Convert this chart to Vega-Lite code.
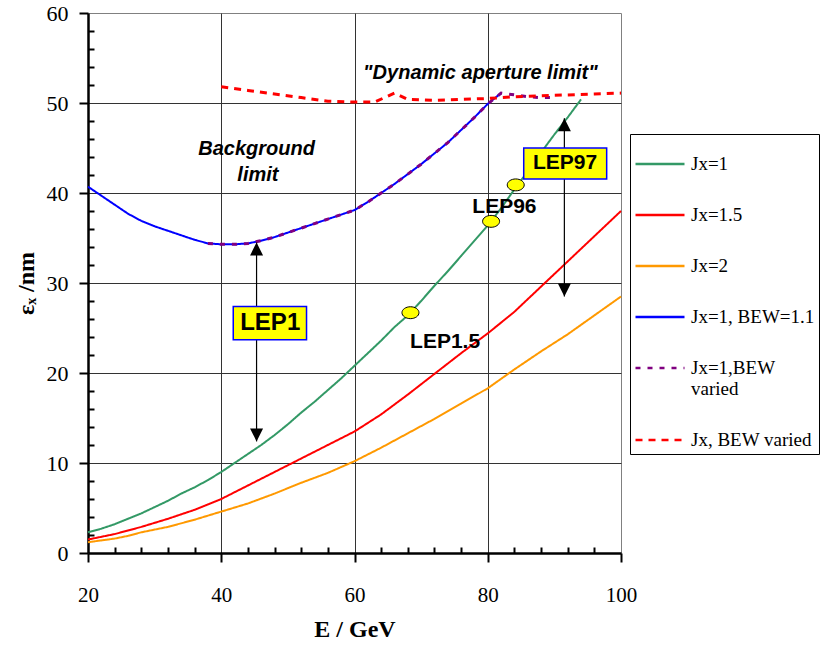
{
  "$schema": "https://vega.github.io/schema/vega-lite/v6.json",
  "width": 533,
  "height": 540,
  "autosize": {"type": "none"},
  "padding": {"left": 88, "top": 13, "right": 199, "bottom": 99},
  "background": "white",
  "config": {
    "view": {"stroke": "#808080", "strokeWidth": 1}
  },
  "datasets": {
    "curves": [
      {"s": "Jx=1", "E": 20, "eps": 2.3}, {"s": "Jx=1", "E": 22, "eps": 2.7}, {"s": "Jx=1", "E": 24, "eps": 3.2}, {"s": "Jx=1", "E": 26, "eps": 3.8},
      {"s": "Jx=1", "E": 28, "eps": 4.4}, {"s": "Jx=1", "E": 30, "eps": 5.1}, {"s": "Jx=1", "E": 32, "eps": 5.8}, {"s": "Jx=1", "E": 34, "eps": 6.6},
      {"s": "Jx=1", "E": 36, "eps": 7.3}, {"s": "Jx=1", "E": 38, "eps": 8.1}, {"s": "Jx=1", "E": 40, "eps": 9.0}, {"s": "Jx=1", "E": 42, "eps": 10.0},
      {"s": "Jx=1", "E": 44, "eps": 11.0}, {"s": "Jx=1", "E": 46, "eps": 12.0}, {"s": "Jx=1", "E": 48, "eps": 13.1}, {"s": "Jx=1", "E": 50, "eps": 14.3},
      {"s": "Jx=1", "E": 52, "eps": 15.6}, {"s": "Jx=1", "E": 54, "eps": 16.8}, {"s": "Jx=1", "E": 56, "eps": 18.1}, {"s": "Jx=1", "E": 58, "eps": 19.4},
      {"s": "Jx=1", "E": 60, "eps": 20.8}, {"s": "Jx=1", "E": 62, "eps": 22.2}, {"s": "Jx=1", "E": 64, "eps": 23.6}, {"s": "Jx=1", "E": 66, "eps": 25.1},
      {"s": "Jx=1", "E": 68, "eps": 26.4}, {"s": "Jx=1", "E": 70, "eps": 28.0}, {"s": "Jx=1", "E": 72, "eps": 29.7}, {"s": "Jx=1", "E": 74, "eps": 31.3},
      {"s": "Jx=1", "E": 76, "eps": 33.0}, {"s": "Jx=1", "E": 78, "eps": 34.7}, {"s": "Jx=1", "E": 80, "eps": 36.4}, {"s": "Jx=1", "E": 82, "eps": 38.3},
      {"s": "Jx=1", "E": 84, "eps": 40.4}, {"s": "Jx=1", "E": 86, "eps": 42.4}, {"s": "Jx=1", "E": 88, "eps": 44.5}, {"s": "Jx=1", "E": 90, "eps": 46.5},
      {"s": "Jx=1", "E": 92, "eps": 48.4}, {"s": "Jx=1", "E": 94, "eps": 50.4},

      {"s": "Jx=1.5", "E": 20, "eps": 1.5}, {"s": "Jx=1.5", "E": 24, "eps": 2.1}, {"s": "Jx=1.5", "E": 28, "eps": 2.9}, {"s": "Jx=1.5", "E": 32, "eps": 3.8},
      {"s": "Jx=1.5", "E": 36, "eps": 4.8}, {"s": "Jx=1.5", "E": 40, "eps": 6.0}, {"s": "Jx=1.5", "E": 44, "eps": 7.5}, {"s": "Jx=1.5", "E": 48, "eps": 9.0},
      {"s": "Jx=1.5", "E": 52, "eps": 10.5}, {"s": "Jx=1.5", "E": 56, "eps": 12.0}, {"s": "Jx=1.5", "E": 60, "eps": 13.5}, {"s": "Jx=1.5", "E": 64, "eps": 15.4},
      {"s": "Jx=1.5", "E": 68, "eps": 17.6}, {"s": "Jx=1.5", "E": 72, "eps": 19.9}, {"s": "Jx=1.5", "E": 76, "eps": 22.2}, {"s": "Jx=1.5", "E": 80, "eps": 24.4},
      {"s": "Jx=1.5", "E": 84, "eps": 26.8}, {"s": "Jx=1.5", "E": 88, "eps": 29.6}, {"s": "Jx=1.5", "E": 92, "eps": 32.4}, {"s": "Jx=1.5", "E": 96, "eps": 35.2},
      {"s": "Jx=1.5", "E": 100, "eps": 38.0},

      {"s": "Jx=2", "E": 20, "eps": 1.2}, {"s": "Jx=2", "E": 22, "eps": 1.4}, {"s": "Jx=2", "E": 24, "eps": 1.6}, {"s": "Jx=2", "E": 26, "eps": 1.9},
      {"s": "Jx=2", "E": 28, "eps": 2.3}, {"s": "Jx=2", "E": 32, "eps": 2.9}, {"s": "Jx=2", "E": 36, "eps": 3.7}, {"s": "Jx=2", "E": 40, "eps": 4.6},
      {"s": "Jx=2", "E": 44, "eps": 5.5}, {"s": "Jx=2", "E": 48, "eps": 6.6}, {"s": "Jx=2", "E": 52, "eps": 7.8}, {"s": "Jx=2", "E": 56, "eps": 8.9},
      {"s": "Jx=2", "E": 60, "eps": 10.2}, {"s": "Jx=2", "E": 64, "eps": 11.7}, {"s": "Jx=2", "E": 68, "eps": 13.3}, {"s": "Jx=2", "E": 72, "eps": 14.9},
      {"s": "Jx=2", "E": 76, "eps": 16.6}, {"s": "Jx=2", "E": 80, "eps": 18.3}, {"s": "Jx=2", "E": 84, "eps": 20.4}, {"s": "Jx=2", "E": 88, "eps": 22.4},
      {"s": "Jx=2", "E": 92, "eps": 24.3}, {"s": "Jx=2", "E": 96, "eps": 26.4}, {"s": "Jx=2", "E": 100, "eps": 28.5},

      {"s": "Jx=1, BEW=1.1", "E": 20, "eps": 40.7}, {"s": "Jx=1, BEW=1.1", "E": 22, "eps": 39.7}, {"s": "Jx=1, BEW=1.1", "E": 24, "eps": 38.7},
      {"s": "Jx=1, BEW=1.1", "E": 26, "eps": 37.7}, {"s": "Jx=1, BEW=1.1", "E": 28, "eps": 36.9}, {"s": "Jx=1, BEW=1.1", "E": 30, "eps": 36.3},
      {"s": "Jx=1, BEW=1.1", "E": 32, "eps": 35.8}, {"s": "Jx=1, BEW=1.1", "E": 34, "eps": 35.3}, {"s": "Jx=1, BEW=1.1", "E": 36, "eps": 34.8},
      {"s": "Jx=1, BEW=1.1", "E": 38, "eps": 34.4}, {"s": "Jx=1, BEW=1.1", "E": 40, "eps": 34.3}, {"s": "Jx=1, BEW=1.1", "E": 42, "eps": 34.3},
      {"s": "Jx=1, BEW=1.1", "E": 44, "eps": 34.4}, {"s": "Jx=1, BEW=1.1", "E": 46, "eps": 34.7}, {"s": "Jx=1, BEW=1.1", "E": 48, "eps": 35.1},
      {"s": "Jx=1, BEW=1.1", "E": 50, "eps": 35.6}, {"s": "Jx=1, BEW=1.1", "E": 52, "eps": 36.1}, {"s": "Jx=1, BEW=1.1", "E": 54, "eps": 36.6},
      {"s": "Jx=1, BEW=1.1", "E": 56, "eps": 37.1}, {"s": "Jx=1, BEW=1.1", "E": 58, "eps": 37.6}, {"s": "Jx=1, BEW=1.1", "E": 60, "eps": 38.1},
      {"s": "Jx=1, BEW=1.1", "E": 62, "eps": 39.0}, {"s": "Jx=1, BEW=1.1", "E": 64, "eps": 40.0}, {"s": "Jx=1, BEW=1.1", "E": 66, "eps": 41.0},
      {"s": "Jx=1, BEW=1.1", "E": 68, "eps": 42.1}, {"s": "Jx=1, BEW=1.1", "E": 70, "eps": 43.2}, {"s": "Jx=1, BEW=1.1", "E": 72, "eps": 44.4},
      {"s": "Jx=1, BEW=1.1", "E": 74, "eps": 45.6}, {"s": "Jx=1, BEW=1.1", "E": 76, "eps": 47.0}, {"s": "Jx=1, BEW=1.1", "E": 78, "eps": 48.4},
      {"s": "Jx=1, BEW=1.1", "E": 80, "eps": 49.9}, {"s": "Jx=1, BEW=1.1", "E": 82, "eps": 51.1},

      {"s": "Jx=1,BEW varied", "E": 38, "eps": 34.4}, {"s": "Jx=1,BEW varied", "E": 40, "eps": 34.3}, {"s": "Jx=1,BEW varied", "E": 42, "eps": 34.3},
      {"s": "Jx=1,BEW varied", "E": 44, "eps": 34.4}, {"s": "Jx=1,BEW varied", "E": 46, "eps": 34.7}, {"s": "Jx=1,BEW varied", "E": 48, "eps": 35.1},
      {"s": "Jx=1,BEW varied", "E": 50, "eps": 35.6}, {"s": "Jx=1,BEW varied", "E": 52, "eps": 36.1}, {"s": "Jx=1,BEW varied", "E": 54, "eps": 36.6},
      {"s": "Jx=1,BEW varied", "E": 56, "eps": 37.1}, {"s": "Jx=1,BEW varied", "E": 58, "eps": 37.6}, {"s": "Jx=1,BEW varied", "E": 60, "eps": 38.1},
      {"s": "Jx=1,BEW varied", "E": 62, "eps": 39.0}, {"s": "Jx=1,BEW varied", "E": 64, "eps": 40.0}, {"s": "Jx=1,BEW varied", "E": 66, "eps": 41.0},
      {"s": "Jx=1,BEW varied", "E": 68, "eps": 42.1}, {"s": "Jx=1,BEW varied", "E": 70, "eps": 43.2}, {"s": "Jx=1,BEW varied", "E": 72, "eps": 44.4},
      {"s": "Jx=1,BEW varied", "E": 74, "eps": 45.6}, {"s": "Jx=1,BEW varied", "E": 76, "eps": 47.0}, {"s": "Jx=1,BEW varied", "E": 78, "eps": 48.4},
      {"s": "Jx=1,BEW varied", "E": 80, "eps": 49.9}, {"s": "Jx=1,BEW varied", "E": 82, "eps": 51.1}, {"s": "Jx=1,BEW varied", "E": 84, "eps": 50.9},
      {"s": "Jx=1,BEW varied", "E": 86, "eps": 50.7}, {"s": "Jx=1,BEW varied", "E": 88, "eps": 50.6}, {"s": "Jx=1,BEW varied", "E": 90, "eps": 50.6},

      {"s": "Jx, BEW varied", "E": 40, "eps": 51.8}, {"s": "Jx, BEW varied", "E": 44, "eps": 51.4}, {"s": "Jx, BEW varied", "E": 48, "eps": 51.0},
      {"s": "Jx, BEW varied", "E": 52, "eps": 50.6}, {"s": "Jx, BEW varied", "E": 56, "eps": 50.2}, {"s": "Jx, BEW varied", "E": 60, "eps": 50.1},
      {"s": "Jx, BEW varied", "E": 63, "eps": 50.1}, {"s": "Jx, BEW varied", "E": 66, "eps": 51.1}, {"s": "Jx, BEW varied", "E": 68, "eps": 50.4},
      {"s": "Jx, BEW varied", "E": 72, "eps": 50.3}, {"s": "Jx, BEW varied", "E": 76, "eps": 50.4}, {"s": "Jx, BEW varied", "E": 80, "eps": 50.5},
      {"s": "Jx, BEW varied", "E": 84, "eps": 50.7}, {"s": "Jx, BEW varied", "E": 88, "eps": 50.8}, {"s": "Jx, BEW varied", "E": 92, "eps": 50.9},
      {"s": "Jx, BEW varied", "E": 96, "eps": 51.0}, {"s": "Jx, BEW varied", "E": 100, "eps": 51.1}
    ]
  },
  "layer": [
    {
      "data": {"name": "curves"},
      "transform": [{"filter": "datum.s !== 'Jx=1,BEW varied' && datum.s !== 'Jx, BEW varied'"}],
      "mark": {"type": "line", "strokeWidth": 2},
      "encoding": {
        "x": {
          "field": "E", "type": "quantitative",
          "scale": {"domain": [20, 100], "nice": false, "zero": false},
          "axis": {
            "values": [20, 24, 28, 32, 36, 40, 44, 48, 52, 56, 60, 64, 68, 72, 76, 80, 84, 88, 92, 96, 100],
            "tickCount": 200, "format": "d",
            "labelExpr": "datum.value % 20 === 0 ? datum.label : ''",
            "labelFont": "Liberation Serif", "labelFontSize": 21, "labelColor": "black",
            "labelPadding": 22, "labelFlush": false, "labelOverlap": false,
            "domainColor": "black", "domainWidth": 2.5,
            "tickColor": "black", "tickWidth": 2,
            "tickSize": {"condition": {"test": "datum.value % 20 === 0", "value": 9}, "value": -6},
            "grid": true, "gridColor": "#333333", "gridWidth": 1,
            "gridOpacity": {"condition": {"test": "datum.value % 20 === 0 && datum.value > 20 && datum.value < 100", "value": 1}, "value": 0},
            "title": "E / GeV", "titleFont": "Liberation Serif", "titleFontSize": 24, "titleFontWeight": "bold", "titleColor": "black", "titlePadding": 12
          }
        },
        "y": {
          "field": "eps", "type": "quantitative",
          "scale": {"domain": [0, 60], "nice": false},
          "axis": {
            "values": [0, 2, 4, 6, 8, 10, 12, 14, 16, 18, 20, 22, 24, 26, 28, 30, 32, 34, 36, 38, 40, 42, 44, 46, 48, 50, 52, 54, 56, 58, 60],
            "tickCount": 200, "format": "d",
            "labelExpr": "datum.value % 10 === 0 ? datum.label : ''",
            "labelFont": "Liberation Serif", "labelFontSize": 22, "labelColor": "black",
            "labelPadding": 11, "labelFlush": false, "labelOverlap": false,
            "domainColor": "black", "domainWidth": 2.5,
            "tickColor": "black", "tickWidth": 2,
            "tickSize": {"condition": {"test": "datum.value % 10 === 0", "value": 9}, "value": -6},
            "grid": true, "gridColor": "#333333", "gridWidth": 1,
            "gridOpacity": {"condition": {"test": "datum.value % 10 === 0 && datum.value > 0 && datum.value < 60", "value": 1}, "value": 0},
            "title": "εₓ /nm", "titleFont": "Liberation Serif", "titleFontSize": 24, "titleFontWeight": "bold", "titleColor": "black", "titlePadding": 8
          }
        },
        "color": {
          "field": "s", "type": "nominal",
          "scale": {
            "domain": ["Jx=1", "Jx=1.5", "Jx=2", "Jx=1, BEW=1.1", "Jx=1,BEW varied", "Jx, BEW varied"],
            "range": ["#339966", "#FF0000", "#FF9900", "#0000FF", "#800080", "#FF0000"]
          },
          "legend": {
            "orient": "none", "legendX": 542, "legendY": 121, "title": null,
            "symbolType": "stroke", "symbolSize": 2401, "symbolStrokeWidth": 2.5,
            "labelFont": "Liberation Serif", "labelFontSize": 19, "labelColor": "black", "labelLimit": 300, "labelOffset": 5,
            "rowPadding": 15, "padding": 4, "fillColor": "white", "strokeColor": "black",
            "labelExpr": "datum.label === 'Jx=1,BEW varied' ? ['Jx=1,BEW', 'varied'] : datum.label"
          }
        },
        "strokeDash": {
          "field": "s", "type": "nominal",
          "scale": {
            "domain": ["Jx=1", "Jx=1.5", "Jx=2", "Jx=1, BEW=1.1", "Jx=1,BEW varied", "Jx, BEW varied"],
            "range": [[1, 0], [1, 0], [1, 0], [1, 0], [5, 7], [7, 6]]
          },
          "legend": {
            "orient": "none", "legendX": 542, "legendY": 121, "title": null,
            "symbolType": "stroke", "symbolSize": 2401, "symbolStrokeWidth": 2.5,
            "labelFont": "Liberation Serif", "labelFontSize": 19, "labelColor": "black", "labelLimit": 300, "labelOffset": 5,
            "rowPadding": 15, "padding": 4, "fillColor": "white", "strokeColor": "black",
            "labelExpr": "datum.label === 'Jx=1,BEW varied' ? ['Jx=1,BEW', 'varied'] : datum.label"
          }
        }
      }
    },
    {
      "data": {"name": "curves"},
      "transform": [{"filter": "datum.s === 'Jx=1,BEW varied' || datum.s === 'Jx, BEW varied'"}],
      "mark": {"type": "line", "strokeWidth": 3},
      "encoding": {
        "x": {"field": "E", "type": "quantitative"},
        "y": {"field": "eps", "type": "quantitative"},
        "color": {"field": "s", "type": "nominal"},
        "strokeDash": {"field": "s", "type": "nominal"}
      }
    },
    {
      "data": {"values": [{"E": 45.3, "top": 34.5, "bot": 12.4}, {"E": 91.5, "top": 48.3, "bot": 28.5}]},
      "mark": {"type": "rule", "color": "black", "strokeWidth": 1.2},
      "encoding": {
        "x": {"field": "E", "type": "quantitative"},
        "y": {"field": "top", "type": "quantitative"},
        "y2": {"field": "bot"}
      }
    },
    {
      "data": {"values": [{"E": 45.3, "eps": 34.5}, {"E": 91.5, "eps": 48.3}]},
      "mark": {"type": "point", "shape": "M 0 0 L -0.5 1 L 0.5 1 Z", "filled": true, "color": "black", "size": 676, "opacity": 1},
      "encoding": {
        "x": {"field": "E", "type": "quantitative"},
        "y": {"field": "eps", "type": "quantitative"}
      }
    },
    {
      "data": {"values": [{"E": 45.3, "eps": 12.4}, {"E": 91.5, "eps": 28.5}]},
      "mark": {"type": "point", "shape": "M 0 0 L -0.5 -1 L 0.5 -1 Z", "filled": true, "color": "black", "size": 676, "opacity": 1},
      "encoding": {
        "x": {"field": "E", "type": "quantitative"},
        "y": {"field": "eps", "type": "quantitative"}
      }
    },
    {
      "data": {"values": [{"x1": 41.8, "x2": 52.8, "y1": 27.4, "y2": 23.7}, {"x1": 85.4, "x2": 97.85, "y1": 45.0, "y2": 41.55}]},
      "mark": {"type": "rect", "fill": "#FFFF00", "stroke": "#0000FF", "strokeWidth": 1.5},
      "encoding": {
        "x": {"field": "x1", "type": "quantitative"},
        "x2": {"field": "x2"},
        "y": {"field": "y1", "type": "quantitative"},
        "y2": {"field": "y2"}
      }
    },
    {
      "data": {"values": [{"E": 47.35, "eps": 25.55, "t": "LEP1"}]},
      "mark": {"type": "text", "font": "Liberation Sans", "fontSize": 24, "fontWeight": "bold", "color": "black", "align": "center", "baseline": "middle"},
      "encoding": {
        "x": {"field": "E", "type": "quantitative"},
        "y": {"field": "eps", "type": "quantitative"},
        "text": {"field": "t"}
      }
    },
    {
      "data": {"values": [{"E": 91.6, "eps": 43.3, "t": "LEP97"}, {"E": 82.5, "eps": 38.4, "t": "LEP96"}, {"E": 73.6, "eps": 23.4, "t": "LEP1.5"}]},
      "mark": {"type": "text", "font": "Liberation Sans", "fontSize": 21, "fontWeight": "bold", "color": "black", "align": "center", "baseline": "middle"},
      "encoding": {
        "x": {"field": "E", "type": "quantitative"},
        "y": {"field": "eps", "type": "quantitative"},
        "text": {"field": "t"}
      }
    },
    {
      "data": {"values": [{"E": 45.3, "eps": 44.9, "t": "Background"}, {"E": 45.5, "eps": 42.0, "t": "limit"}, {"E": 78.9, "eps": 53.3, "t": "\"Dynamic aperture limit\""}]},
      "mark": {"type": "text", "font": "Liberation Sans", "fontSize": 20, "fontWeight": "bold", "fontStyle": "italic", "color": "black", "align": "center", "baseline": "middle"},
      "encoding": {
        "x": {"field": "E", "type": "quantitative"},
        "y": {"field": "eps", "type": "quantitative"},
        "text": {"field": "t"}
      }
    },
    {
      "data": {"values": [{"E": 68.4, "eps": 26.7}, {"E": 80.5, "eps": 36.85}, {"E": 84.2, "eps": 40.9}]},
      "mark": {"type": "point", "shape": "M -1 0 A 1 0.7 0 1 0 1 0 A 1 0.7 0 1 0 -1 0 Z", "filled": true, "fill": "#FFFF00", "stroke": "black", "strokeWidth": 1, "size": 289, "opacity": 1},
      "encoding": {
        "x": {"field": "E", "type": "quantitative"},
        "y": {"field": "eps", "type": "quantitative"}
      }
    }
  ]
}
